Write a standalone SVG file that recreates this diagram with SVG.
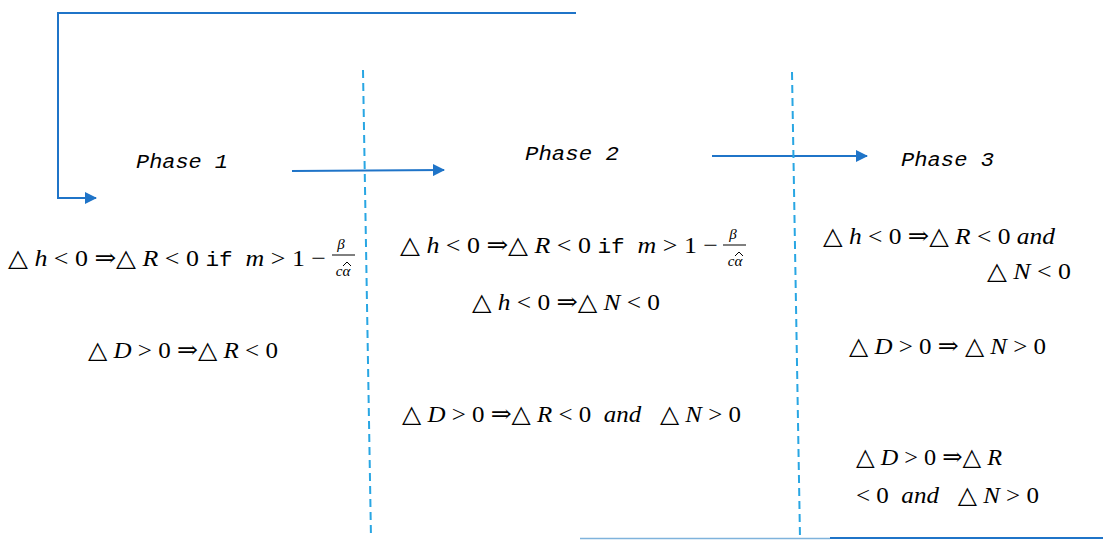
<svg xmlns="http://www.w3.org/2000/svg" width="1103" height="540" viewBox="0 0 1103 540">
<defs>
<marker id="ah" viewBox="0 0 12 12" refX="11" refY="6" markerWidth="12" markerHeight="12" orient="auto" markerUnits="userSpaceOnUse">
<path d="M0,0 L12,6 L0,12 Z" fill="#1f74c8"/>
</marker>
<style>
.ln{stroke:#1f74c8;stroke-width:2;fill:none}
.dash{stroke:#29a6e3;stroke-width:2;stroke-dasharray:8,5;fill:none}
.ph{font-family:"Liberation Mono",monospace;font-style:italic;font-size:20px;fill:#000;white-space:pre}
.m{font-family:"Liberation Serif","DejaVu Serif",serif;font-size:24px;fill:#000;white-space:pre}
.i{font-style:italic}
.tt{font-family:"Liberation Mono",monospace;font-size:21px}
.fr{font-family:"Liberation Serif",serif;font-style:italic;font-size:15px;fill:#000}
.hat{stroke:#000;stroke-width:1;fill:none}
</style>
</defs>
<rect width="1103" height="540" fill="#fff"/>
<g id="connectors">
<path class="ln" d="M576,13 H58 V198 H96" marker-end="url(#ah)"/>
<path class="ln" d="M292,171 L444,170" marker-end="url(#ah)"/>
<path class="ln" d="M712,156 L867,156" marker-end="url(#ah)"/>
<path class="dash" d="M363,70 L371,538"/>
<path class="dash" d="M792,72 L800,538"/>
<path d="M580,538.5 H830" stroke="#7fb3dc" stroke-width="1.5"/>
<path d="M830,538 H1103" stroke="#1f74c8" stroke-width="2"/>
</g>
<g id="phase1">
<text class="ph" x="136" y="168" textLength="92" lengthAdjust="spacingAndGlyphs">Phase 1</text>
<text class="m" x="8" y="266" textLength="318" lengthAdjust="spacingAndGlyphs">△ <tspan class="i">h</tspan> &lt; 0 ⇒△ <tspan class="i">R</tspan> &lt; 0 <tspan class="tt">if</tspan>  <tspan class="i">m</tspan> &gt; 1 −</text>
<text class="fr" x="341" y="249" text-anchor="middle">β</text>
<line x1="332" y1="255" x2="355" y2="255" stroke="#000" stroke-width="1"/>
<text class="fr" x="343" y="276" text-anchor="middle">cα</text>
<path class="hat" d="M343,266 L347,262 L351,266"/>
<text class="m" x="88" y="358" textLength="190" lengthAdjust="spacingAndGlyphs">△ <tspan class="i">D</tspan> &gt; 0 ⇒△ <tspan class="i">R</tspan> &lt; 0</text>
</g>
<g id="phase2">
<text class="ph" x="525" y="160" textLength="94" lengthAdjust="spacingAndGlyphs">Phase 2</text>
<text class="m" x="400" y="253" textLength="318" lengthAdjust="spacingAndGlyphs">△ <tspan class="i">h</tspan> &lt; 0 ⇒△ <tspan class="i">R</tspan> &lt; 0 <tspan class="tt">if</tspan>  <tspan class="i">m</tspan> &gt; 1 −</text>
<text class="fr" x="733" y="239" text-anchor="middle">β</text>
<line x1="723" y1="245" x2="746" y2="245" stroke="#000" stroke-width="1"/>
<text class="fr" x="735" y="266" text-anchor="middle">cα</text>
<path class="hat" d="M735,256 L739,252 L743,256"/>
<text class="m" x="472" y="310" textLength="188" lengthAdjust="spacingAndGlyphs">△ <tspan class="i">h</tspan> &lt; 0 ⇒△ <tspan class="i">N</tspan> &lt; 0</text>
<text class="m" x="402" y="422" textLength="339" lengthAdjust="spacingAndGlyphs">△ <tspan class="i">D</tspan> &gt; 0 ⇒△ <tspan class="i">R</tspan> &lt; 0  <tspan class="i">and</tspan>   △ <tspan class="i">N</tspan> &gt; 0</text>
</g>
<g id="phase3">
<text class="ph" x="901" y="166" textLength="93" lengthAdjust="spacingAndGlyphs">Phase 3</text>
<text class="m" x="823" y="244" textLength="232" lengthAdjust="spacingAndGlyphs">△ <tspan class="i">h</tspan> &lt; 0 ⇒△ <tspan class="i">R</tspan> &lt; 0 <tspan class="i">and</tspan></text>
<text class="m" x="987" y="279" textLength="84" lengthAdjust="spacingAndGlyphs">△ <tspan class="i">N</tspan> &lt; 0</text>
<text class="m" x="849" y="354" textLength="197" lengthAdjust="spacingAndGlyphs">△ <tspan class="i">D</tspan> &gt; 0 ⇒ △ <tspan class="i">N</tspan> &gt; 0</text>
<text class="m" x="856" y="465" textLength="146" lengthAdjust="spacingAndGlyphs">△ <tspan class="i">D</tspan> &gt; 0 ⇒△ <tspan class="i">R</tspan></text>
<text class="m" x="856" y="503" textLength="183" lengthAdjust="spacingAndGlyphs">&lt; 0  <tspan class="i">and</tspan>   △ <tspan class="i">N</tspan> &gt; 0</text>
</g>
</svg>
